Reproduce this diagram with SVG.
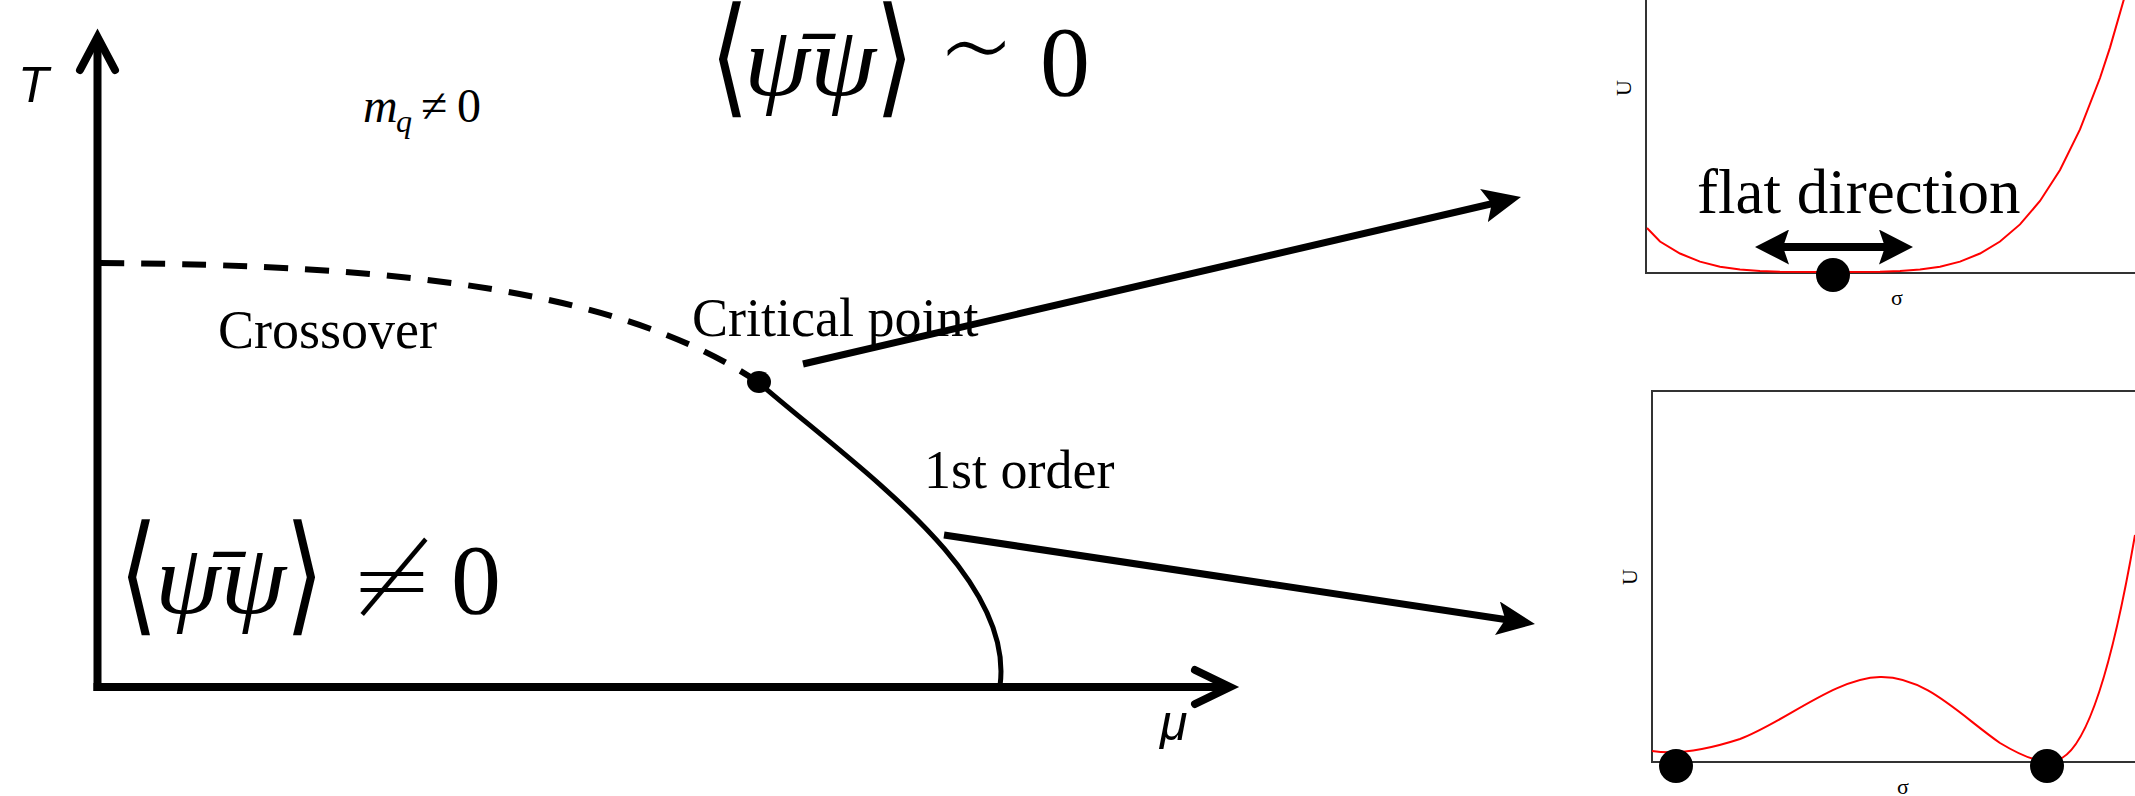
<svg xmlns="http://www.w3.org/2000/svg" width="2135" height="796" viewBox="0 0 2135 796">
<style>
.serif{font-family:"Liberation Serif","DejaVu Serif",serif;fill:#000}
.it{font-style:italic}
.sym{font-family:"DejaVu Sans ExtraLight","DejaVu Sans","Liberation Sans",sans-serif;font-weight:200;fill:#000}
.axlabel{font-family:"Liberation Sans","DejaVu Sans",sans-serif;font-style:italic;font-size:50px;fill:#000}
.lbl{font-family:"Liberation Serif","DejaVu Serif",serif;font-size:54px;fill:#000}
.axis{stroke:#000;stroke-width:8;fill:none}
.chev{stroke:#000;stroke-width:8;fill:none;stroke-linecap:round;stroke-linejoin:miter}
.conn{stroke:#000;stroke-width:7;fill:none}
.frame{stroke:#333;stroke-width:2;fill:none}
.pot{stroke:#ff0000;stroke-width:2;fill:none}
.small{font-family:"Liberation Serif","DejaVu Serif",serif;font-size:22px;fill:#000}
</style>
<defs>
<marker id="ah" viewBox="0 0 38 34" refX="18" refY="17" markerWidth="38" markerHeight="34" markerUnits="userSpaceOnUse" orient="auto">
<path d="M0,0 L38,17 L0,34 L8,17 Z" fill="#000"/>
</marker>
<marker id="dh" viewBox="0 0 34 35" refX="14" refY="17.5" markerWidth="34" markerHeight="35" markerUnits="userSpaceOnUse" orient="auto-start-reverse">
<path d="M0,0 L34,17.5 L0,35 L6,17.5 Z" fill="#000"/>
</marker>
</defs>
<rect width="2135" height="796" fill="#fff"/>

<g id="axes">
<line class="axis" x1="97.5" y1="40" x2="97.5" y2="691"/>
<line class="axis" x1="93.5" y1="687" x2="1226" y2="687"/>
<polyline class="chev" points="80,70 97.5,37 115,70"/>
<polyline class="chev" points="1195,670 1230,687 1195,704"/>
<text class="axlabel" x="18" y="102">T</text>
<text class="axlabel" x="1160" y="740">μ</text>
</g>

<g id="phase-boundary">
<path d="M100,263 C400,265 620,290 758,382" stroke="#000" stroke-width="6" fill="none" stroke-dasharray="24 17"/>
<path d="M758,382 C860,470 1015,575 1000,686" stroke="#000" stroke-width="5" fill="none"/>
<ellipse cx="759" cy="382" rx="12" ry="11" fill="#000"/>
</g>

<g id="region-labels">
<text class="serif" font-size="48"><tspan class="it" x="363" y="122">m</tspan><tspan class="it" font-size="32" x="396" y="132">q</tspan><tspan x="421" y="122">≠</tspan><tspan x="457" y="122">0</tspan></text>
<text class="lbl" x="218" y="348">Crossover</text>
<text class="lbl" x="692" y="336">Critical point</text>
<text class="lbl" x="924" y="488">1st order</text>
</g>

<g id="formula-top">
<text class="sym" font-size="100" transform="translate(710 100.2) scale(1 1.3)">⟨</text>
<text class="serif it" font-size="100" x="744" y="95" textLength="132" lengthAdjust="spacingAndGlyphs">ψ̄ψ</text>
<text class="sym" font-size="100" transform="translate(875 100.2) scale(1 1.3)">⟩</text>
<text class="sym" font-size="120" x="938" y="90">∼</text>
<text class="serif" font-size="100" x="1040" y="95">0</text>
</g>

<g id="formula-bottom">
<text class="sym" font-size="100" transform="translate(119 618.2) scale(1 1.3)">⟨</text>
<text class="serif it" font-size="100" x="155" y="613" textLength="131" lengthAdjust="spacingAndGlyphs">ψ̄ψ</text>
<text class="sym" font-size="100" transform="translate(285 618.2) scale(1 1.3)">⟩</text>
<text class="sym" font-size="100" x="350" y="613">≠</text>
<text class="serif" font-size="100" x="451" y="613">0</text>
</g>

<g id="panel-top">
<path class="frame" d="M1646,0 V273 H2135"/>
<polyline class="pot" points="1647,228 1660,241.5 1680,253.5 1700,261.6 1720,266.7 1740,269.6 1760,271.1 1780,271.8 1830,272 1880,271.8 1900,271.1 1920,269.6 1940,266.7 1960,261.6 1980,253.5 2000,241.5 2020,224.4 2040,201 2060,170 2080,129.4 2100,78 2110,47.6 2124,-1"/>
<circle cx="1833" cy="275" r="17" fill="#000"/>
<line x1="1775" y1="247" x2="1893" y2="247" stroke="#000" stroke-width="8" marker-start="url(#dh)" marker-end="url(#dh)"/>
<text class="serif" font-size="63" x="1697" y="213">flat direction</text>
<text class="small" x="1631" y="88" text-anchor="middle" transform="rotate(-90 1631 88)">U</text>
<text class="small" x="1897" y="305" text-anchor="middle">σ</text>
</g>

<g id="panel-bottom">
<path class="frame" d="M2135,391 H1652 V762 H2135"/>
<path class="pot" d="M1652,751 C1670,754 1700,752 1740,739 C1785,722 1835,678 1880,677 C1925,676 1960,715 2000,743 C2025,758 2045,766 2062,758 C2085,745 2110,680 2135,535"/>
<circle cx="1676" cy="766" r="17" fill="#000"/>
<circle cx="2047" cy="766" r="17" fill="#000"/>
<text class="small" x="1637" y="577" text-anchor="middle" transform="rotate(-90 1637 577)">U</text>
<text class="small" x="1903" y="794" text-anchor="middle">σ</text>
</g>

<g id="connectors">
<line class="conn" x1="803" y1="364" x2="1501.5" y2="201.5" marker-end="url(#ah)"/>
<line class="conn" x1="944" y1="535" x2="1515.2" y2="621" marker-end="url(#ah)"/>
</g>
</svg>
